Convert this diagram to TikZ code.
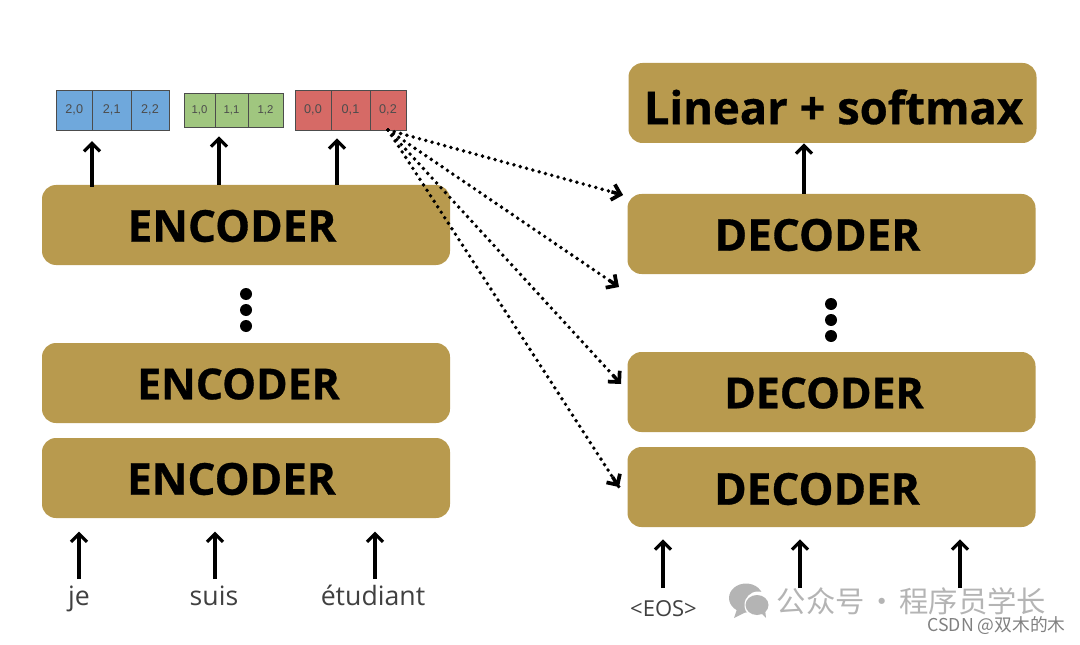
\documentclass[tikz,border=0pt]{standalone}
\usepackage{fontspec}
\setmainfont{Open Sans}
\newfontfamily\boxfont[BoldFeatures={FakeBold=0.7}]{Open Sans}
\newfontfamily\cellfont{Liberation Sans}
\newfontfamily\cjk{Noto Sans CJK SC}
\usetikzlibrary{arrows.meta,calc}
\definecolor{boxgold}{HTML}{B89A4E}
\definecolor{cellblue}{HTML}{6FA8DC}
\definecolor{cellgreen}{HTML}{A0C67F}
\definecolor{cellred}{HTML}{D66A66}
\definecolor{marktext}{HTML}{B4B4B4}
\begin{document}
\begin{tikzpicture}[
		x=0.75pt,y=-0.75pt,
		stackbox/.style={fill=boxgold,rounded corners=10.5pt,minimum width=306pt,minimum height=60pt,inner sep=0pt},
		boxtext/.style={font=\boxfont\bfseries\fontsize{33}{36}\selectfont,inner sep=0pt},
		bigcell/.style={draw=black!70,line width=0.7pt,minimum height=30pt,inner sep=0pt,font=\cellfont\fontsize{9.5}{10}\selectfont,text=black!70},
		smallcell/.style={draw=black!70,line width=0.7pt,minimum height=26pt,inner sep=0pt,font=\cellfont\fontsize{8.5}{10}\selectfont,text=black!70},
		flow/.style={-{Straight Barb[length=6pt,width=12pt,line width=2.4pt]},line width=2.6pt},
		attn/.style={line width=2.9pt,line cap=round,dash pattern=on 0pt off 4.9pt},
		attntip/.style={-{Straight Barb[length=6pt,width=12pt,line width=2.8pt]},line width=2.6pt},
		vdot/.style={circle,fill=black,minimum size=9pt,inner sep=0pt},
		wordtext/.style={font=\fontsize{20}{22}\selectfont,text=black!75,inner sep=0pt,anchor=base},
		marktxt/.style={text=marktext,inner sep=0pt}
	]
	\useasboundingbox (0,0) rectangle (1080,645);

	\node[stackbox] (enc3) at (246,225) {};
	\node[stackbox] (enc2) at (246,383) {};
	\node[stackbox] (enc1) at (246,478) {};
	\node[boxtext] (enc3text) at (232,226) {ENCODER};
	\node[boxtext] (enc2text) at (238.5,384) {\fontsize{32}{36}\selectfont ENCODER};
	\node[boxtext] (enc1text) at (231.5,479) {ENCODER};

	\node[stackbox] (linear) at (832.5,103) {};
	\node[stackbox] (dec3) at (831.5,234) {};
	\node[stackbox] (dec2) at (831.5,392) {};
	\node[stackbox] (dec1) at (831.5,487) {};
	\node[boxtext] (lineartext) at (833.5,107) {\fontsize{34}{36}\selectfont Linear + softmax};
	\node[boxtext] (dec3text) at (817.5,235) {DECODER};
	\node[boxtext] (dec2text) at (824,393) {\fontsize{32}{36}\selectfont DECODER};
	\node[boxtext] (dec1text) at (817,489) {DECODER};

	\node[bigcell,fill=cellblue,minimum width=27.4pt] (blue0) at (74.25,110) {2,0};
	\node[bigcell,fill=cellblue,minimum width=28.9pt] (blue1) at (111.75,110) {2,1};
	\node[bigcell,fill=cellblue,minimum width=28.5pt] (blue2) at (150,110) {2,2};
	\node[smallcell,fill=cellgreen,minimum width=23.2pt] (green0) at (199.5,110.5) {1,0};
	\node[smallcell,fill=cellgreen,minimum width=24.8pt] (green1) at (231.5,110.5) {1,1};
	\node[smallcell,fill=cellgreen,minimum width=26.2pt] (green2) at (265.5,110.5) {1,2};
	\node[bigcell,fill=cellred,minimum width=27pt] (red0) at (313,110) {0,0};
	\node[bigcell,fill=cellred,minimum width=29.2pt] (red1) at (350.5,110) {0,1};
	\node[bigcell,fill=cellred,minimum width=27pt] (red2) at (388,110) {0,2};

	\coordinate (bluefoot) at (92,187);
	\coordinate (greenfoot) at (219,185);
	\coordinate (redfoot) at (337,185);
	\draw[flow,shorten >=8pt] (bluefoot) -- (bluefoot |- blue1.south);
	\draw[flow,shorten >=6pt] (greenfoot) -- (greenfoot |- green1.south);
	\draw[flow,shorten >=6pt] (redfoot) -- (redfoot |- red1.south);

	\node[vdot] (encdot1) at (246,294) {};
	\node[vdot] (encdot2) at (246,310) {};
	\node[vdot] (encdot3) at (246,326) {};
	\node[vdot] (decdot1) at (831,304) {};
	\node[vdot] (decdot2) at (831,320) {};
	\node[vdot] (decdot3) at (831,336) {};

	\node[wordtext] (je) at (79,605) {je};
	\node[wordtext] (suis) at (214,605) {suis};
	\node[wordtext] (etudiant) at (373,605) {étudiant};
	\node[wordtext,font=\fontsize{16.5}{18}\selectfont] (eos) at (663.5,616) {<EOS>};

	\coordinate (jefoot) at (79,579);
	\coordinate (suisfoot) at (215,579);
	\coordinate (etudfoot) at (375,579);
	\draw[flow,shorten >=10pt] (jefoot) -- (jefoot |- enc1.south);
	\draw[flow,shorten >=10pt] (suisfoot) -- (suisfoot |- enc1.south);
	\draw[flow,shorten >=10pt] (etudfoot) -- (etudfoot |- enc1.south);

	\coordinate (eosfoot) at (663,588);
	\coordinate (midfoot) at (800,588);
	\coordinate (endfoot) at (960,588);
	\draw[flow,shorten >=9pt] (eosfoot) -- (eosfoot |- dec1.south);
	\draw[flow,shorten >=9pt] (midfoot) -- (midfoot |- dec1.south);
	\draw[flow,shorten >=9pt] (endfoot) -- (endfoot |- dec1.south);

	\coordinate (dec3foot) at (804,194);
	\draw[flow] (dec3foot) -- (dec3foot |- linear.south);

	\coordinate (redout) at (388,130);
	\coordinate (attn3) at (623,195);
	\coordinate (attn2) at (619,287);
	\coordinate (attn1) at (621,384);
	\coordinate (attn0) at (619,487);
	\draw[attn] (redout) -- (attn3);
	\draw[attn] (redout) -- (attn2);
	\draw[attn] (redout) -- (attn1);
	\draw[attn] (redout) -- (attn0);
	\draw[attntip] ($(attn3)!9pt!(redout)$) -- (attn3);
	\draw[attntip] ($(attn2)!9pt!(redout)$) -- (attn2);
	\draw[attntip] ($(attn1)!9pt!(redout)$) -- (attn1);
	\draw[attntip] ($(attn0)!9pt!(redout)$) -- (attn0);

	\fill[marktext] (746,598) ellipse (17 and 14.5);
	\fill[marktext] (737,609) -- (734,618) -- (746,612) -- cycle;
	\fill[white] (758,605) circle (13.5);
	\fill[marktext] (757,605) ellipse (11.5 and 10);
	\fill[marktext] (760,612) -- (766,618) -- (765,609) -- cycle;

	\node[marktxt,font=\cjk\fontsize{22}{24}\selectfont] (marktitle) at (911.5,601) {公众号\hspace{2pt}·\hspace{2pt}程序员学长};
	\node[marktxt,text=black!50,font=\cjk\fontsize{13.3}{14}\selectfont] (marksite) at (996.5,626) {CSDN @双木的木};
\end{tikzpicture}
\end{document}
